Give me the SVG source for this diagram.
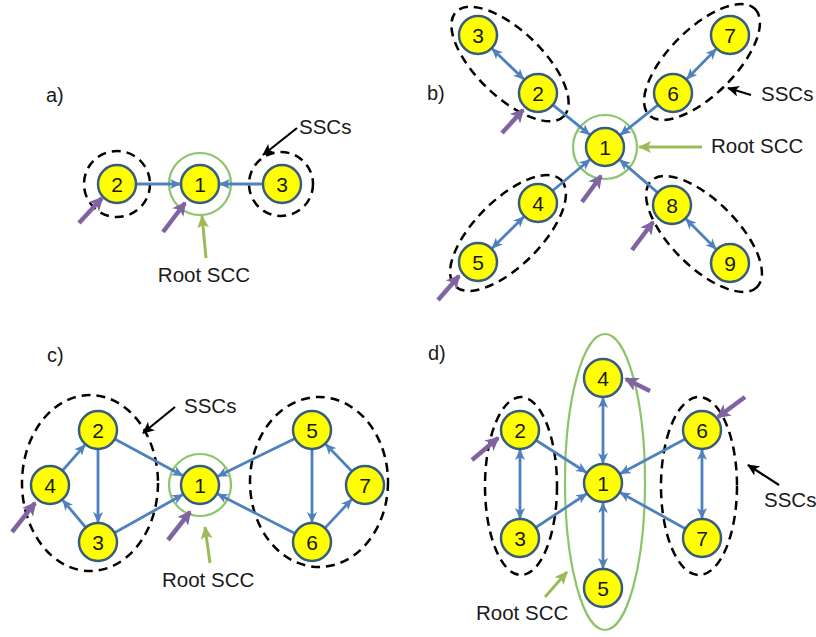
<svg xmlns="http://www.w3.org/2000/svg" width="816" height="637" viewBox="0 0 816 637">
  <defs>
    <marker id="edgeHead" markerUnits="userSpaceOnUse" markerWidth="11" markerHeight="10" refX="10" refY="5" orient="auto-start-reverse">
      <path d="M0,0 L11,5 L0,10 L3,5 z" fill="#4F81BD"/>
    </marker>
    <marker id="purpleHead" markerUnits="userSpaceOnUse" markerWidth="14" markerHeight="14" refX="12" refY="7" orient="auto">
      <path d="M0,0 L14,7 L0,14 L3.5,7 z" fill="#8064A2"/>
    </marker>
    <marker id="blackHead" markerUnits="userSpaceOnUse" markerWidth="12" markerHeight="11" refX="11" refY="5.5" orient="auto">
      <path d="M0,0 L12,5.5 L0,11 L3,5.5 z" fill="#000"/>
    </marker>
    <marker id="greenHead" markerUnits="userSpaceOnUse" markerWidth="13" markerHeight="12" refX="12" refY="6" orient="auto">
      <path d="M0,0 L13,6 L0,12 L3,6 z" fill="#9BBB59"/>
    </marker>
  </defs>
  <style>
    text { font-family: "Liberation Sans", Arial, sans-serif; fill: #1a1a1a; }
    .node circle { fill: #FFFF00; stroke: #365C80; stroke-width: 2.5; }
    .node text { font-size: 21px; text-anchor: middle; dominant-baseline: central; }
    .label { font-size: 20px; }
    .note { font-size: 20.5px; }
    .ssc { fill: none; stroke: #000; stroke-width: 2.5; stroke-dasharray: 9 6; }
    .root { fill: none; stroke: #8CC46A; stroke-width: 2.2; }
    .edge { stroke: #4F81BD; stroke-width: 2.8; fill: none; marker-end: url(#edgeHead); }
    .both { marker-start: url(#edgeHead); }
    .entry { stroke: #8064A2; stroke-width: 4.5; marker-end: url(#purpleHead); }
    .callout { stroke: #000; stroke-width: 2.2; marker-end: url(#blackHead); }
    .rootcall { stroke: #9BBB59; stroke-width: 3; marker-end: url(#greenHead); }
  </style>
  <rect width="816" height="637" fill="#fff"/>

  <!-- panel labels -->
  <text class="label" x="46" y="102">a)</text>
  <text class="label" x="427" y="100">b)</text>
  <text class="label" x="47" y="362">c)</text>
  <text class="label" x="428" y="360">d)</text>

  <!-- component outlines -->
  <g id="components">
    <circle class="ssc" cx="117" cy="184" r="33"/>
    <circle class="root" cx="200" cy="184" r="31"/>
    <circle class="ssc" cx="281" cy="184" r="32"/>

    <circle class="root" cx="605" cy="147" r="32"/>
    <ellipse class="ssc" cx="510" cy="64" rx="75" ry="33" transform="rotate(44 510 64)"/>
    <ellipse class="ssc" cx="702" cy="62" rx="75" ry="33" transform="rotate(-45 702 62)"/>
    <ellipse class="ssc" cx="508" cy="233" rx="75" ry="33" transform="rotate(-45 508 233)"/>
    <ellipse class="ssc" cx="704" cy="234" rx="75" ry="33" transform="rotate(45 704 234)"/>

    <circle class="root" cx="200" cy="485" r="31"/>
    <ellipse class="ssc" cx="90" cy="483" rx="68" ry="88"/>
    <ellipse class="ssc" cx="319" cy="482" rx="69" ry="85"/>

    <ellipse class="root" cx="605" cy="482" rx="40" ry="148"/>
    <ellipse class="ssc" cx="521" cy="486" rx="36" ry="89"/>
    <ellipse class="ssc" cx="699" cy="486" rx="38" ry="89"/>
  </g>

  <!-- connectors -->
  <g id="connectors">
    <!-- a -->
    <line class="edge" x1="136" y1="184" x2="180" y2="184"/>
    <line class="edge" x1="263" y1="184" x2="220" y2="184"/>
    <!-- b -->
    <line class="edge" x1="552.8" y1="104.9" x2="589.4" y2="134.4"/>
    <line class="edge" x1="658.1" y1="104.8" x2="620.7" y2="134.6"/>
    <line class="edge" x1="552.6" y1="190.8" x2="589.7" y2="159.8"/>
    <line class="edge" x1="657.6" y1="192.6" x2="620.1" y2="160.1"/>
    <line class="edge both" x1="492.4" y1="48.9" x2="523.6" y2="79.1"/>
    <line class="edge both" x1="716" y1="49.3" x2="687" y2="78.7"/>
    <line class="edge both" x1="523.7" y1="217" x2="492.3" y2="248"/>
    <line class="edge both" x1="686.1" y1="219.1" x2="715.9" y2="248.9"/>
    <!-- c -->
    <line class="edge" x1="62.5" y1="470.7" x2="84.8" y2="445.1"/>
    <line class="edge" x1="98" y1="449" x2="98" y2="522"/>
    <line class="edge" x1="85.8" y1="527.5" x2="62.9" y2="500.3"/>
    <line class="edge" x1="114.7" y1="439" x2="182.4" y2="475.5"/>
    <line class="edge" x1="114.6" y1="532.7" x2="182.5" y2="494.8"/>
    <line class="edge" x1="295" y1="438.4" x2="217.9" y2="476.2"/>
    <line class="edge" x1="295.1" y1="533.4" x2="217.8" y2="494.1"/>
    <line class="edge" x1="312" y1="449" x2="312" y2="522"/>
    <line class="edge" x1="324.9" y1="528.1" x2="351.4" y2="499.7"/>
    <line class="edge" x1="351.8" y1="471.3" x2="325.9" y2="444.4"/>
    <!-- d -->
    <line class="edge both" x1="603" y1="398" x2="603" y2="463"/>
    <line class="edge both" x1="603" y1="503" x2="603" y2="568"/>
    <line class="edge both" x1="520" y1="450" x2="520" y2="518"/>
    <line class="edge both" x1="702" y1="450" x2="702" y2="518"/>
    <line class="edge" x1="536" y1="440.2" x2="586.1" y2="472.2"/>
    <line class="edge" x1="535.8" y1="527.5" x2="586.3" y2="494"/>
    <line class="edge" x1="685.2" y1="439" x2="620.6" y2="473.6"/>
    <line class="edge" x1="685.4" y1="528.8" x2="620.5" y2="492.7"/>
  </g>

  <!-- panel a nodes -->
  <g id="a1" class="node"><circle cx="200" cy="184" r="19"/><text x="200" y="184">1</text></g>
  <g id="a2" class="node"><circle cx="117" cy="184" r="19"/><text x="117" y="184">2</text></g>
  <g id="a3" class="node"><circle cx="282" cy="184" r="19"/><text x="282" y="184">3</text></g>

  <!-- panel b nodes -->
  <g id="b1" class="node"><circle cx="605" cy="147" r="19"/><text x="605" y="147">1</text></g>
  <g id="b2" class="node"><circle cx="538" cy="93" r="19"/><text x="538" y="93">2</text></g>
  <g id="b3" class="node"><circle cx="478" cy="35" r="19"/><text x="478" y="35">3</text></g>
  <g id="b4" class="node"><circle cx="538" cy="203" r="19"/><text x="538" y="203">4</text></g>
  <g id="b5" class="node"><circle cx="478" cy="262" r="19"/><text x="478" y="262">5</text></g>
  <g id="b6" class="node"><circle cx="673" cy="93" r="19"/><text x="673" y="93">6</text></g>
  <g id="b7" class="node"><circle cx="730" cy="35" r="19"/><text x="730" y="35">7</text></g>
  <g id="b8" class="node"><circle cx="672" cy="205" r="19"/><text x="672" y="205">8</text></g>
  <g id="b9" class="node"><circle cx="730" cy="263" r="19"/><text x="730" y="263">9</text></g>

  <!-- panel c nodes -->
  <g id="c1" class="node"><circle cx="200" cy="485" r="19"/><text x="200" y="485">1</text></g>
  <g id="c2" class="node"><circle cx="98" cy="430" r="19"/><text x="98" y="430">2</text></g>
  <g id="c3" class="node"><circle cx="98" cy="542" r="19"/><text x="98" y="542">3</text></g>
  <g id="c4" class="node"><circle cx="50" cy="485" r="19"/><text x="50" y="485">4</text></g>
  <g id="c5" class="node"><circle cx="312" cy="430" r="19"/><text x="312" y="430">5</text></g>
  <g id="c6" class="node"><circle cx="312" cy="542" r="19"/><text x="312" y="542">6</text></g>
  <g id="c7" class="node"><circle cx="365" cy="485" r="19"/><text x="365" y="485">7</text></g>

  <!-- panel d nodes -->
  <g id="d1" class="node"><circle cx="603" cy="483" r="19"/><text x="603" y="483">1</text></g>
  <g id="d2" class="node"><circle cx="520" cy="430" r="19"/><text x="520" y="430">2</text></g>
  <g id="d3" class="node"><circle cx="520" cy="538" r="19"/><text x="520" y="538">3</text></g>
  <g id="d4" class="node"><circle cx="603" cy="378" r="19"/><text x="603" y="378">4</text></g>
  <g id="d5" class="node"><circle cx="603" cy="588" r="19"/><text x="603" y="588">5</text></g>
  <g id="d6" class="node"><circle cx="702" cy="430" r="19"/><text x="702" y="430">6</text></g>
  <g id="d7" class="node"><circle cx="702" cy="538" r="19"/><text x="702" y="538">7</text></g>

  <!-- entry arrows -->
  <g id="entries">
    <line class="entry" x1="79" y1="223" x2="102" y2="198"/>
    <line class="entry" x1="163" y1="232" x2="185" y2="203"/>
    <line class="entry" x1="502" y1="133" x2="523" y2="110"/>
    <line class="entry" x1="582" y1="202" x2="601" y2="176"/>
    <line class="entry" x1="438" y1="300" x2="459" y2="276"/>
    <line class="entry" x1="632" y1="250" x2="653" y2="222"/>
    <line class="entry" x1="12" y1="532" x2="35" y2="503"/>
    <line class="entry" x1="168" y1="540" x2="190" y2="512"/>
    <line class="entry" x1="650" y1="391" x2="626" y2="379"/>
    <line class="entry" x1="745" y1="397" x2="718" y2="417"/>
    <line class="entry" x1="472" y1="460" x2="498" y2="438"/>
  </g>

  <!-- annotations -->
  <g id="annotations">
    <line class="callout" x1="297" y1="128" x2="263" y2="155"/>
    <text class="note" x="299" y="134">SSCs</text>
    <line class="rootcall" x1="206" y1="258" x2="202" y2="216"/>
    <text class="note" x="204" y="282" text-anchor="middle">Root SCC</text>

    <line class="callout" x1="751" y1="95" x2="728" y2="88"/>
    <text class="note" x="761" y="101">SSCs</text>
    <line class="rootcall" x1="702" y1="147" x2="639" y2="147"/>
    <text class="note" x="711" y="153">Root SCC</text>

    <line class="callout" x1="175" y1="407" x2="143" y2="433"/>
    <text class="note" x="184" y="413">SSCs</text>
    <line class="rootcall" x1="210" y1="563" x2="205" y2="527"/>
    <text class="note" x="162" y="587">Root SCC</text>

    <line class="callout" x1="779" y1="485" x2="748" y2="465"/>
    <text class="note" x="764" y="507">SSCs</text>
    <line class="rootcall" x1="545" y1="597" x2="567" y2="572"/>
    <text class="note" x="476" y="620">Root SCC</text>
  </g>
</svg>
